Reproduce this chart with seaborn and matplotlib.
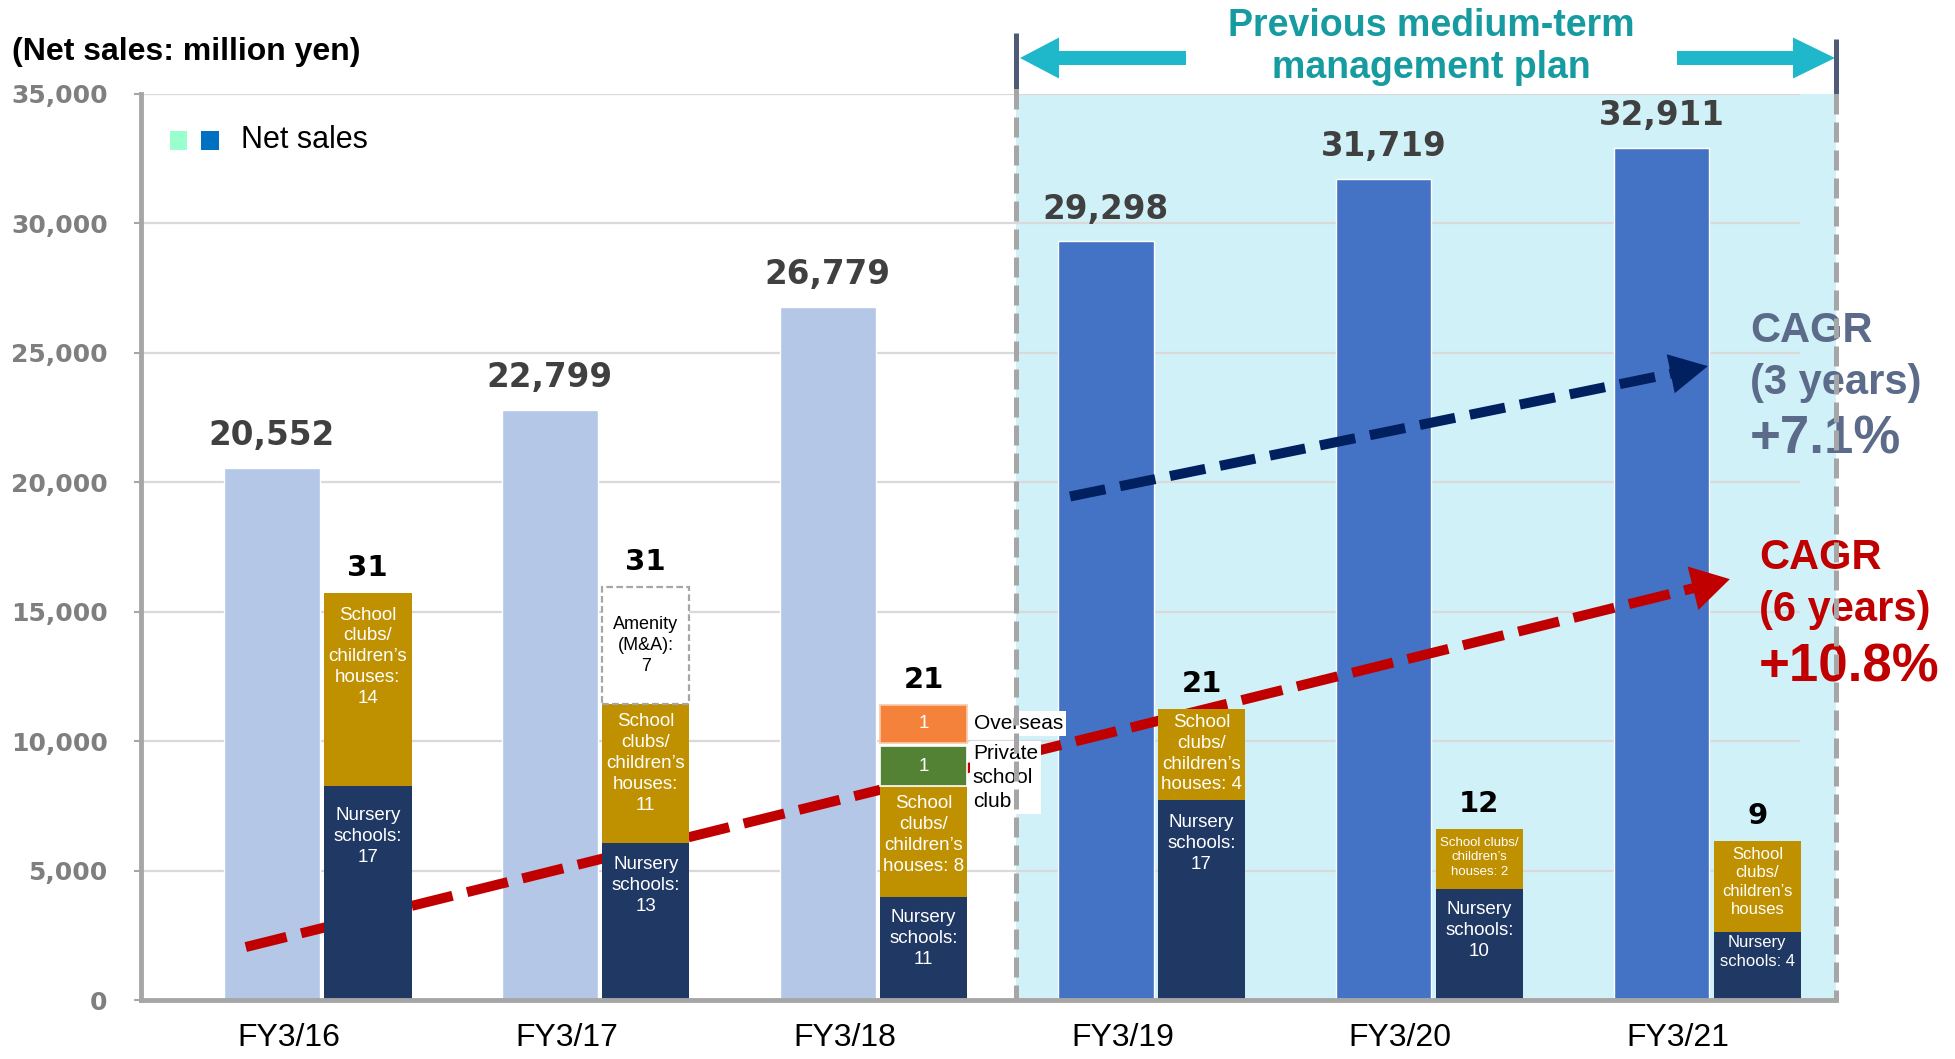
import matplotlib
matplotlib.use("Agg")
import matplotlib.pyplot as plt
from matplotlib.patches import Polygon, Rectangle
from matplotlib.lines import Line2D
import matplotlib.transforms as mtransforms
import seaborn as sns
import pandas as pd
import numpy as np

W, H = 1956, 1059

# ---------------- data ----------------
categories = ["FY3/16", "FY3/17", "FY3/18", "FY3/19", "FY3/20", "FY3/21"]
net_sales = [20552, 22799, 26779, 29298, 31719, 32911]
period = ["Before", "Before", "Before", "Plan", "Plan", "Plan"]

# facility openings (drawn as stacked bars on the sales scale)
total_openings = [31, 31, 21, 21, 12, 9]
nursery_height = [8290, 6070, 4010, 7740, 4300, 2640]
club_height = [7420, 5380, 4250, 3510, 2310, 3510]
amenity_height = [0, 4500, 0, 0, 0, 0]
private_height = [0, 0, 1540, 0, 0, 0]
overseas_height = [0, 0, 1470, 0, 0, 0]

nursery_labels = ["Nursery\nschools:\n17", "Nursery\nschools:\n13", "Nursery\nschools:\n11",
                  "Nursery\nschools:\n17", "Nursery\nschools:\n10", "Nursery\nschools: 4"]
club_labels = ["School\nclubs/\nchildren\u2019s\nhouses:\n14",
               "School\nclubs/\nchildren\u2019s\nhouses:\n11",
               "School\nclubs/\nchildren\u2019s\nhouses: 8",
               "School\nclubs/\nchildren\u2019s\nhouses: 4",
               "School clubs/\nchildren\u2019s\nhouses: 2",
               "School\nclubs/\nchildren\u2019s\nhouses"]
amenity_label = "Amenity\n(M&A):\n7"
private_label = "1"
overseas_label = "1"

ytick_values = [0, 5000, 10000, 15000, 20000, 25000, 30000, 35000]
ytick_labels = ["0", "5,000", "10,000", "15,000", "20,000", "25,000", "30,000", "35,000"]

# CAGR trend arrows (start, end) in data units
trend6_x = [-0.094, 5.246]
trend6_y = [2060, 16260]
trend3_x = [2.872, 5.167]
trend3_y = [19450, 24480]

plan_start, plan_end = 2.677, 5.628

# ---------------- style ----------------
sns.set_theme(style="white")
plt.rcParams["font.family"] = ["Liberation Sans", "DejaVu Sans"]

C_LIGHT = "#B4C7E7"
C_DARK = "#4472C4"
C_NAVY = "#203864"
C_GOLD = "#BF9000"
C_GREEN = "#548235"
C_ORANGE = "#F4823A"
C_CYAN = "#D0F1F8"
C_GRID = "#D9D9D9"
C_AXIS = "#A6A6A6"

fig = plt.figure(figsize=(W / 100, H / 100), dpi=100)
ax = fig.add_axes([141 / W, (H - 1000.4) / H, (1836 - 141) / W, (1000.4 - 93.6) / H])


def fx(x):
    return x / W


def fy(y):
    return 1 - y / H


df = pd.DataFrame({"category": categories, "sales": net_sales, "period": period})
sns.barplot(data=df, x="category", y="sales", hue="period",
            palette={"Before": C_LIGHT, "Plan": C_DARK}, width=0.345,
            dodge=False, legend=False, errorbar=None, saturation=1,
            ax=ax, zorder=2)

xlim = (-0.471, plan_end)
ax.set_xlim(*xlim)
ax.set_ylim(0, 35000)

# plan shading
ax.axvspan(plan_start, plan_end + 0.05, color=C_CYAN, zorder=0, lw=0)
# gridlines
ax.hlines(ytick_values[1:], xlim[0], 5.498, color=C_GRID, lw=1.6, zorder=1)

idx = np.arange(len(categories))
xs = idx + 0.345
sw = 0.315
nh = np.array(nursery_height)
ch = np.array(club_height)
ah = np.array(amenity_height)
ph = np.array(private_height)
oh = np.array(overseas_height)
seg_gap = 150

ax.bar(xs, nh, width=sw, color=C_NAVY, zorder=4, lw=0)
ax.bar(xs, ch, bottom=nh, width=sw, color=C_GOLD, zorder=4, lw=0)
am = ah > 0
ax.bar(xs[am], ah[am], bottom=(nh + ch)[am], width=sw, facecolor="white",
       edgecolor="#A6A6A6", linestyle=(0, (3, 1.5)), lw=1.6, zorder=4)
pm = ph > 0
ax.bar(xs[pm], ph[pm], bottom=(nh + ch)[pm], width=sw, color=C_GREEN,
       edgecolor="white", lw=1.2, zorder=4)
om = oh > 0
ax.bar(xs[om], oh[om], bottom=(nh + ch + ph + seg_gap)[om], width=sw, color=C_ORANGE,
       edgecolor="#F8C9A8", lw=1.2, zorder=4)

stack_top = nh + ch + ah + ph + np.where(oh > 0, oh + seg_gap, 0)

# main value labels
for i, v in enumerate(net_sales):
    ax.annotate(f"{v:,}", (idx[i], v), xytext=(0, 23), textcoords="offset points",
                ha="center", va="center", fontsize=23.5, fontweight="bold",
                color="#404040", family="DejaVu Sans", zorder=6)

# total openings labels
for i, v in enumerate(total_openings):
    ax.annotate(f"{v}", (xs[i], stack_top[i]), xytext=(0, 18), textcoords="offset points",
                ha="center", va="center", fontsize=21, fontweight="bold",
                color="black", family="DejaVu Sans", zorder=6)

club_fs = [13.5, 13.5, 13.5, 13.5, 9.5, 12]
nursery_fs = [13.5, 13.5, 13.5, 13.5, 13.5, 12]
club_off = [9.5, 7, 6.5, 3.5, 5.5, 4]
nursery_off = [15.5, 9.5, 9, 10, 9, 2.5]
for i in idx:
    ax.annotate(club_labels[i], (xs[i], nh[i] + ch[i]), xytext=(0, -club_off[i]),
                textcoords="offset points", ha="center", va="top", color="white",
                fontsize=club_fs[i], linespacing=1.3, zorder=6)
    ax.annotate(nursery_labels[i], (xs[i], nh[i]), xytext=(0, -nursery_off[i]),
                textcoords="offset points", ha="center", va="top", color="white",
                fontsize=nursery_fs[i], linespacing=1.3, zorder=6)

for i in idx[am]:
    ax.text(xs[i], nh[i] + ch[i] + ah[i] / 2, amenity_label, ha="center", va="center",
            fontsize=13, color="black", linespacing=1.3, zorder=6)
for i in idx[pm]:
    ax.text(xs[i], nh[i] + ch[i] + ph[i] / 2, private_label, ha="center", va="center",
            fontsize=13.5, color="white", zorder=6)
    ax.annotate("Private\nschool\nclub", (xs[i] + sw / 2, nh[i] + ch[i] + ph[i]),
                xytext=(4, 2), textcoords="offset points", ha="left", va="top",
                fontsize=15, color="black", linespacing=1.35, zorder=6,
                bbox=dict(facecolor="white", edgecolor="none", pad=2))
for i in idx[om]:
    base = nh[i] + ch[i] + ph[i] + seg_gap
    ax.text(xs[i], base + oh[i] / 2, overseas_label, ha="center", va="center",
            fontsize=13.5, color="white", zorder=6)
    ax.annotate("Overseas", (xs[i] + sw / 2, base + oh[i] / 2), xytext=(5, 0),
                textcoords="offset points", ha="left", va="center",
                fontsize=15, color="black", zorder=6,
                bbox=dict(facecolor="white", edgecolor="none", pad=2))

# trend arrows
def trend(xv, yv, color, head_w, dash):
    p0 = ax.transData.transform((xv[0], yv[0]))
    p1 = ax.transData.transform((xv[1], yv[1]))
    d = p1 - p0
    L = np.hypot(*d)
    u = d / L
    pb = p1 - u * 30
    pl = p1 - u * 26
    pl_data = ax.transData.inverted().transform(pl)
    pb_data = ax.transData.inverted().transform(pb)
    ax.plot([xv[0], pl_data[0]], [yv[0], pl_data[1]], color=color, lw=7.2,
            linestyle=dash, dash_capstyle="butt", zorder=3, solid_capstyle="butt")
    ax.annotate("", xy=(xv[1], yv[1]), xytext=tuple(pb_data),
                arrowprops=dict(arrowstyle=f"-|>,head_length=1.05,head_width={head_w}",
                                mutation_scale=26, lw=0, color=color,
                                shrinkA=0, shrinkB=0), zorder=3)

trend(trend6_x, trend6_y, "#C00000", 0.62, (0, (4.2, 1.5)))
trend(trend3_x, trend3_y, "#002060", 0.55, (0, (3.6, 1.5)))

# axes styling
sns.despine(ax=ax, top=True, right=True)
for s in ["left", "bottom"]:
    ax.spines[s].set_color(C_AXIS)
    ax.spines[s].set_linewidth(3.5)
    ax.spines[s].set_zorder(5)
ax.set_yticks(ytick_values)
ax.set_yticklabels(ytick_labels, fontsize=18, fontweight="bold", color="#7F7F7F",
                   family="DejaVu Sans")
ax.tick_params(axis="y", length=5, width=1.5, color=C_AXIS, pad=19, left=True)
ax.set_xticks(idx + 0.06)
ax.set_xticklabels(categories, fontsize=23, color="black")
ax.tick_params(axis="x", length=0, pad=16)
ax.set_xlabel("")
ax.set_ylabel("")
ax.grid(False)

# plan boundaries (solid cap above the axes, dashed inside)
bt = mtransforms.blended_transform_factory(ax.transData, fig.transFigure)
for xb, ytop, ymid in [(plan_start, 33, 89), (plan_end, 39, 94)]:
    fig.add_artist(Line2D([xb, xb], [fy(ytop), fy(ymid)], transform=bt,
                          color="#4F5B76", lw=3.6, solid_capstyle="butt"))
    fig.add_artist(Line2D([xb, xb], [fy(ymid), fy(1001)], transform=bt,
                          color=C_AXIS, lw=3.6, linestyle=(0, (4, 1.6)),
                          dash_capstyle="butt", zorder=7))

# top double arrow
C_ARROW = "#1FB7CA"
def harrow(tip, base, end, yc):
    pts = [(tip, yc), (base, yc - 20.5), (base, yc - 7), (end, yc - 7),
           (end, yc + 7), (base, yc + 7), (base, yc + 20.5)]
    fig.add_artist(Polygon([(fx(a), fy(b)) for a, b in pts], closed=True,
                           transform=fig.transFigure, facecolor=C_ARROW, edgecolor="none"))

harrow(1020, 1059, 1186, 58)
harrow(1835, 1793, 1677, 58)
fig.text(fx(1431), fy(47), "Previous medium-term\nmanagement plan", ha="center", va="center",
         fontsize=27, fontweight="bold", color="#169BA0", linespacing=1.2)

# title
fig.text(fx(12), fy(52), "(Net sales: million yen)", ha="left", va="center",
         fontsize=23, fontweight="bold", color="black")

# legend
fig.add_artist(Rectangle((fx(170), fy(150)), 17 / W, 19 / H, transform=fig.transFigure,
                         facecolor="#99FFCC", edgecolor="none"))
fig.add_artist(Rectangle((fx(201), fy(150)), 18 / W, 19 / H, transform=fig.transFigure,
                         facecolor="#0070C0", edgecolor="none"))
fig.text(fx(241), fy(140), "Net sales", ha="left", va="center", fontsize=22, color="black")

# CAGR annotations
slate = "#5B6B89"
red = "#C00000"
fig.text(fx(1750), fy(331), "CAGR", ha="left", va="center", fontsize=30, fontweight="bold", color=slate)
fig.text(fx(1750), fy(383), "(3 years)", ha="left", va="center", fontsize=30, fontweight="bold", color=slate)
fig.text(fx(1750), fy(439), "+7.1%", ha="left", va="center", fontsize=38, fontweight="bold", color=slate)
fig.text(fx(1759), fy(558), "CAGR", ha="left", va="center", fontsize=30, fontweight="bold", color=red)
fig.text(fx(1759), fy(610), "(6 years)", ha="left", va="center", fontsize=30, fontweight="bold", color=red)
fig.text(fx(1759), fy(667), "+10.8%", ha="left", va="center", fontsize=38, fontweight="bold", color=red)

fig.savefig("out.png", dpi=100)
